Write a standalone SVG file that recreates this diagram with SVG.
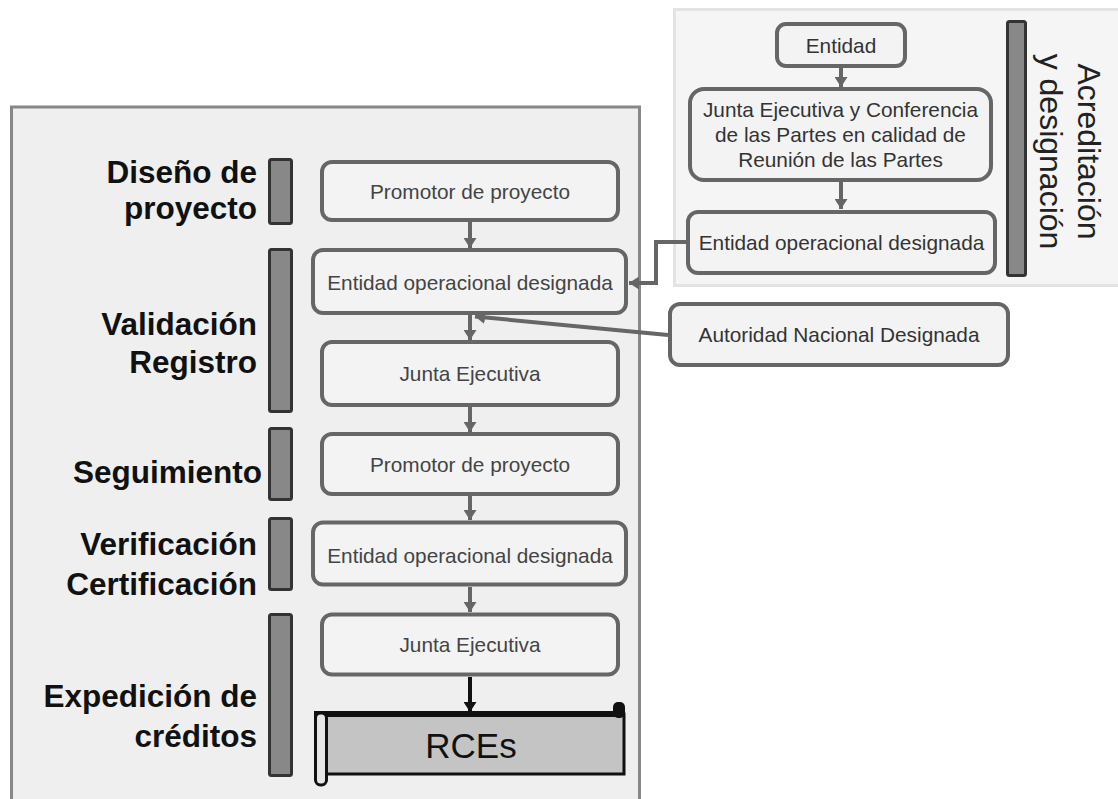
<svg xmlns="http://www.w3.org/2000/svg" width="1118" height="799" viewBox="0 0 1118 799">
<defs>
<style>
.stage{font-family:"Liberation Sans",Arial,sans-serif;font-weight:bold;font-size:31.5px;fill:#111;text-anchor:end}
.bx{fill:#f3f3f3;stroke:#666;stroke-width:4}
.bt{font-family:"Liberation Sans",Arial,sans-serif;font-size:20.8px;fill:#444;text-anchor:middle}
.rt{font-family:"Liberation Sans",Arial,sans-serif;font-size:20.8px;fill:#333;text-anchor:middle}
.bar{fill:#888;stroke:#333;stroke-width:3}
.con{fill:none;stroke:#666;stroke-width:4}
</style>
<marker id="ah" markerWidth="10" markerHeight="13" refX="10" refY="6.5" orient="auto" markerUnits="userSpaceOnUse"><path d="M0,0 L10,6.5 L0,13 Z" fill="#666"/></marker>
<marker id="ahk" markerWidth="10" markerHeight="13" refX="10" refY="6.5" orient="auto" markerUnits="userSpaceOnUse"><path d="M0,0 L10,6.5 L0,13 Z" fill="#111"/></marker>
</defs>
<rect width="1118" height="799" fill="#fff"/>

<!-- panels -->
<g id="panel-left">
<rect x="11.5" y="107" width="628" height="720" fill="#efefef" stroke="#888" stroke-width="3"/>
</g>
<g id="panel-right">
<rect x="674.5" y="9.5" width="460" height="276" fill="#f5f5f5" stroke="#e3e3e3" stroke-width="3"/>
</g>

<!-- stage bars and labels -->
<g id="stage-diseno">
<rect class="bar" x="269.5" y="159.5" width="22" height="64" rx="2"/>
<text class="stage" x="257" y="183">Diseño de</text>
<text class="stage" x="257" y="219">proyecto</text>
</g>
<g id="stage-validacion">
<rect class="bar" x="269.5" y="249.5" width="22" height="162" rx="2"/>
<text class="stage" x="257" y="335">Validación</text>
<text class="stage" x="257" y="373">Registro</text>
</g>
<g id="stage-seguimiento">
<rect class="bar" x="269.5" y="428.5" width="22" height="71" rx="2"/>
<text class="stage" x="262" y="483">Seguimiento</text>
</g>
<g id="stage-verificacion">
<rect class="bar" x="269.5" y="518.5" width="22" height="71" rx="2"/>
<text class="stage" x="257" y="555">Verificación</text>
<text class="stage" x="257" y="595">Certificación</text>
</g>
<g id="stage-expedicion">
<rect class="bar" x="269.5" y="614.5" width="22" height="161" rx="2"/>
<text class="stage" x="257" y="707">Expedición de</text>
<text class="stage" x="257" y="747">créditos</text>
</g>
<g id="stage-acreditacion">
<rect class="bar" x="1007.5" y="21.5" width="18" height="254" rx="2"/>
<text transform="translate(1078,151.5) rotate(90)" font-family="Liberation Sans, Arial, sans-serif" font-size="32" fill="#222" text-anchor="middle"><tspan x="0" y="0">Acreditación</tspan><tspan x="0" y="38">y designación</tspan></text>
</g>

<!-- connectors -->
<g id="connectors">
<line class="con" x1="470" y1="222" x2="470" y2="248" marker-end="url(#ah)"/>
<line class="con" x1="470" y1="315" x2="470" y2="340" marker-end="url(#ah)"/>
<line class="con" x1="470" y1="407" x2="470" y2="432" marker-end="url(#ah)"/>
<line class="con" x1="470" y1="496" x2="470" y2="520" marker-end="url(#ah)"/>
<line class="con" x1="470" y1="587" x2="470" y2="612" marker-end="url(#ah)"/>
<line x1="470" y1="677" x2="470" y2="712" stroke="#111" stroke-width="4" marker-end="url(#ahk)"/>
<line class="con" x1="841" y1="68" x2="841" y2="87" marker-end="url(#ah)"/>
<line class="con" x1="841" y1="182" x2="841" y2="209" marker-end="url(#ah)"/>
<path class="con" d="M686,242 H656 V283 H629" marker-end="url(#ah)"/>
<line class="con" x1="668" y1="335" x2="475" y2="316.5" marker-end="url(#ah)"/>
</g>

<!-- left flow boxes -->
<g id="n-promotor1">
<rect class="bx" x="322" y="162" width="296" height="58" rx="10"/>
<text class="bt" x="470" y="199">Promotor de proyecto</text>
</g>
<g id="n-eod1">
<rect class="bx" x="313" y="250" width="313" height="63" rx="10"/>
<text class="bt" x="470" y="290">Entidad operacional designada</text>
</g>
<g id="n-junta1">
<rect class="bx" x="322" y="342" width="296" height="63" rx="10"/>
<text class="bt" x="470" y="381">Junta Ejecutiva</text>
</g>
<g id="n-promotor2">
<rect class="bx" x="322" y="434" width="296" height="60" rx="10"/>
<text class="bt" x="470" y="472">Promotor de proyecto</text>
</g>
<g id="n-eod2">
<rect class="bx" x="313" y="522.5" width="313" height="62" rx="10"/>
<text class="bt" x="470" y="563">Entidad operacional designada</text>
</g>
<g id="n-junta2">
<rect class="bx" x="322" y="614.5" width="296" height="60" rx="10"/>
<text class="bt" x="470" y="652">Junta Ejecutiva</text>
</g>
<g id="n-rces">
<rect x="322" y="714" width="302" height="60" fill="#c4c4c4" stroke="#111" stroke-width="3"/>
<rect x="613" y="702" width="12" height="16" rx="5" fill="#111"/>
<line x1="314" y1="714" x2="625" y2="714" stroke="#111" stroke-width="6"/>
<rect x="315.5" y="713" width="11" height="72" rx="5" fill="#e6e6e6" stroke="#111" stroke-width="3"/>
<text x="471" y="758" font-family="Liberation Sans, Arial, sans-serif" font-size="35" fill="#111" text-anchor="middle">RCEs</text>
</g>

<!-- right panel boxes -->
<g id="n-entidad">
<rect class="bx" x="777" y="24" width="128" height="42" rx="9"/>
<text class="rt" x="841" y="53">Entidad</text>
</g>
<g id="n-jecop">
<rect class="bx" x="690" y="89" width="301" height="91" rx="14"/>
<text class="rt" x="840.5" y="117">Junta Ejecutiva y Conferencia</text>
<text class="rt" x="840.5" y="142">de las Partes en calidad de</text>
<text class="rt" x="840.5" y="167">Reunión de las Partes</text>
</g>
<g id="n-eod-right">
<rect class="bx" x="688" y="212" width="307" height="61" rx="10"/>
<text class="rt" x="841.5" y="250">Entidad operacional designada</text>
</g>
<g id="n-and">
<rect class="bx" x="670" y="304" width="338" height="61" rx="10"/>
<text class="rt" x="839" y="342">Autoridad Nacional Designada</text>
</g>
</svg>
